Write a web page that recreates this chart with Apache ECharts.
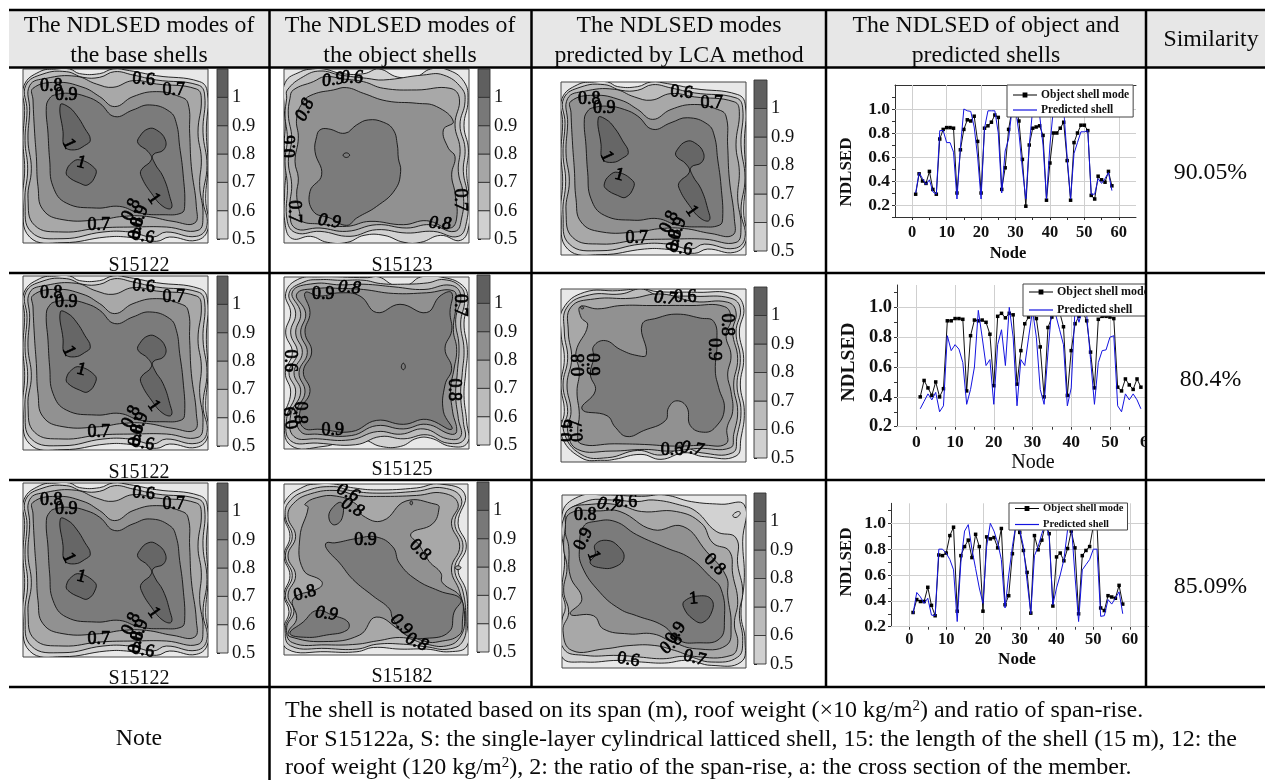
<!DOCTYPE html>
<html><head><meta charset="utf-8">
<style>html,body{margin:0;padding:0;background:#fff}#c{width:1265px;height:780px}</style>
<script src="https://cdn.jsdelivr.net/npm/echarts@6/dist/echarts.min.js"></script>
</head><body><div id="c"></div>
<script>
// ---------- DATA: contour outlines (flat x,y lists) ----------
const contourLevels = [0.5, 0.6, 0.7, 0.8, 0.9, 1.0];

const panelA = [
 [0.5,[3,50,50,8,100,0,140,0,170,14,230,14,270,0,320,5,400,20,530,38,553,70,550,190,555,290,548,390,555,480,520,515,440,505,400,518,310,505,250,505,120,522,20,505,0,400,5,300,0,215,5,125]],
 [0.6,[8,50,60,15,130,8,180,25,230,25,275,8,330,18,400,33,525,48,545,78,540,190,552,290,540,390,552,470,520,503,430,490,390,505,320,490,240,490,120,510,25,490,6,400,14,300,6,215,12,125]],
 [0.7,[20,50,70,28,160,22,220,45,270,55,330,35,400,45,520,60,535,90,525,190,535,270,530,350,540,440,525,485,430,475,330,475,230,478,120,490,35,470,15,390,25,300,15,215,20,125]],
 [0.8,[30,58,100,40,180,55,230,83,275,113,330,83,400,68,470,83,495,103,500,193,505,293,520,413,515,463,450,458,370,443,300,443,230,453,120,453,60,423,45,353,40,263,35,193,30,93]],
 [0.9,[95,78,140,73,190,83,230,103,275,143,330,123,380,108,440,128,460,163,470,233,480,313,485,413,475,433,420,438,350,433,290,413,220,418,130,403,90,353,80,273,75,193,70,113,80,88]],
 [1.0,[112,108,135,113,160,138,185,178,202,213,185,230,155,243,125,233,120,188]],
 [1.0,[170,273,215,298,218,318,195,348,170,343,135,323,130,308,145,283]],
 [1.0,[375,180,400,183,427,213,422,243,390,258,395,283,420,323,440,383,445,418,420,413,385,373,355,323,355,303,385,273,375,248,345,223,350,203]]
];
const labelsA = [["0.8",85,53,0],["0.9",130,78,0],["0.6",362,31,-5],["0.7",452,63,0],["1",137,225,-65],["1",175,281,-15],["1",392,390,-55],["0.8",325,423,65],["0.9",350,443,70],["0.8",340,478,80],["0.7",227,471,0],["0.6",360,503,-10]];

const panelB = [
 [0.5,[4,40,50,8,85,0,120,0,175,14,240,14,285,0,340,24,395,24,440,0,490,2,540,38,552,95,540,170,553,240,548,310,555,380,555,470,530,515,470,500,410,521,360,521,300,500,240,500,190,521,130,521,80,503,25,510,4,470,2,370,6,300,1,230,4,160,0,110]],
 [0.6,[10,63,58,23,108,6,168,18,248,28,298,33,418,18,478,18,533,58,543,98,528,168,543,238,538,308,550,378,548,458,523,503,448,488,368,493,278,483,198,503,108,488,38,493,10,458,10,348,3,278,10,208,3,138,8,88]],
 [0.7,[28,63,88,38,123,23,178,30,238,38,298,58,398,63,498,58,526,88,513,168,528,238,523,308,538,378,533,448,513,488,438,468,368,478,278,468,188,488,108,478,33,478,18,418,23,348,13,278,23,208,13,138,18,88]],
 [0.8,[88,76,148,63,188,56,238,73,308,96,398,103,458,113,508,158,478,183,493,238,513,263,503,318,513,373,518,448,498,478,428,456,358,468,258,458,188,473,108,466,53,458,48,438,38,378,43,328,33,278,43,208,38,148,58,98]],
 [0.9,[108,183,133,180,183,193,218,168,253,153,298,160,328,183,340,228,343,268,350,308,333,363,278,413,218,448,188,470,138,448,88,428,78,368,113,318,93,248,98,203]],
 [0.9,[177,259,187,252,197,259,187,266]]
];
const labelsB = [["0.9",148,33,8],["0.6",203,28,0],["0.8",63,123,65],["0.6",20,233,90],["0.7",30,428,-90],["0.7",526,393,-90],["0.9",136,458,-8],["0.8",468,465,-5]];

const panelC = [
 [0.5,[5,50,40,8,100,0,250,2,285,0,330,25,370,25,410,0,470,0,535,25,552,70,540,140,550,220,545,290,540,360,548,440,550,505,500,515,440,490,400,490,350,515,290,515,240,495,190,495,120,515,20,512,2,430,20,350,4,290,25,230,5,170,20,110]],
 [0.6,[15,50,60,15,110,8,170,10,240,10,290,20,350,22,430,18,480,8,530,30,542,70,530,140,540,220,535,290,530,360,538,440,540,495,490,505,430,480,360,492,290,485,215,510,100,505,20,498,8,430,35,350,15,290,40,230,20,170,35,110]],
 [0.7,[25,45,90,20,170,24,240,22,330,30,420,38,500,25,530,55,515,130,525,210,520,290,515,360,523,430,530,485,490,492,420,462,350,478,280,470,200,495,100,492,30,485,20,420,50,350,30,290,55,230,35,170,50,110]],
 [0.8,[38,52,100,35,175,35,238,38,328,50,428,48,508,42,516,80,508,160,518,220,510,280,500,340,506,410,518,470,500,478,428,448,358,462,278,452,203,482,100,478,50,470,38,410,63,350,45,290,70,230,50,170,65,110]],
 [0.9,[63,48,108,58,168,48,228,58,278,108,348,83,428,108,468,58,503,48,498,108,503,163,483,218,503,278,483,328,478,408,503,463,428,433,358,448,278,436,203,470,108,463,58,458,48,408,78,348,58,288,83,228,63,168,78,108]],
 [0.9,[352,273,358,262,364,273,358,282]]
];
const labelsC = [["0.9",118,53,0],["0.8",196,33,-5],["0.7",528,86,-90],["0.6",18,255,-90],["0.8",508,343,-90],["0.8",48,413,-90],["0.9",23,428,100],["0.9",146,466,0]];

const panelD = [
 [0.5,[6,60,70,10,170,5,225,0,250,0,290,8,410,10,515,15,548,55,535,130,548,210,538,290,550,370,540,450,525,505,430,507,370,495,300,515,240,500,160,515,130,518,60,510,0,440,10,370,0,290,10,210,0,130]],
 [0.6,[18,55,85,18,180,15,240,0,290,18,400,22,510,28,538,60,525,130,538,210,528,290,540,370,528,445,515,495,420,495,370,480,300,502,230,488,140,510,60,500,8,430,20,370,6,290,20,210,10,130]],
 [0.7,[30,55,100,30,210,28,300,15,400,38,500,40,525,70,515,130,530,210,518,290,530,370,518,440,508,480,410,482,330,490,250,485,150,490,50,485,20,430,30,370,18,290,32,210,22,130]],
 [0.8,[58,53,110,60,180,50,270,50,390,50,490,53,510,90,495,140,510,200,500,260,510,310,515,370,498,420,495,468,420,472,340,475,250,470,160,468,60,468,50,430,55,380,48,310,55,250,45,190,80,110,60,85]],
 [0.9,[98,173,133,156,178,183,228,201,256,198,243,108,288,88,348,76,418,88,458,98,468,158,463,248,473,298,490,363,463,418,428,433,388,413,378,358,348,338,323,358,313,398,248,428,198,446,163,418,138,383,63,363,103,308,88,258,98,208]],
 [0.9,[58,54,64,52,68,58,62,60]]
];
const labelsD = [["0.7",313,28,-5],["0.6",373,26,0],["0.8",498,108,-90],["0.9",458,183,-90],["0.8",56,230,90],["0.9",93,228,-90],["0.6",18,428,90],["0.7",48,428,95],["0.6",333,488,0],["0.7",393,483,-10]];

const panelE = [
 [0.5,[5,50,60,8,100,0,150,0,210,12,280,18,400,12,470,0,545,30,525,120,550,190,525,260,550,330,552,420,552,495,500,513,430,505,350,505,270,500,220,513,130,513,10,505,0,440,15,390,0,340,18,280,0,220,18,160,0,100]],
 [0.6,[15,55,70,20,150,8,200,20,280,28,400,22,480,12,535,45,515,120,540,190,515,260,540,330,548,410,540,480,495,505,430,498,360,490,280,490,220,505,130,503,20,495,4,440,22,390,4,340,25,280,4,220,25,160,4,100]],
 [0.7,[28,60,80,30,160,20,220,35,290,38,400,35,480,28,525,60,505,120,530,190,505,260,530,330,545,410,530,470,490,495,430,490,360,470,280,480,220,490,130,492,25,485,8,440,30,390,12,340,35,280,12,220,35,160,12,100]],
 [0.8,[63,62,98,42,158,37,218,62,238,97,298,112,368,52,458,62,468,72,448,122,383,152,408,187,438,237,473,272,478,302,533,347,538,422,528,462,468,482,428,482,358,452,278,407,228,462,118,482,18,467,13,452,38,412,28,352,108,317,113,297,58,262,48,162,73,72]],
 [0.9,[128,180,153,180,218,167,278,162,328,192,348,242,398,292,468,327,533,352,513,392,498,452,428,472,368,462,328,412,318,382,268,342,208,292,168,242,128,197]],
 [0.9,[18,457,58,422,98,387,148,402,193,422,190,447,128,462,68,469]],
 [0.9,[173,57,176,102,153,125,136,107,143,77]],
 [0.7,[516,256,525,250,534,256,525,262]],
 [0.9,[380,58,384,52,388,58,384,64]]
];
const labelsE = [["0.6",193,27,-25],["0.8",206,72,-30],["0.9",246,172,0],["0.8",410,202,-45],["0.8",63,334,15],["0.9",128,397,-8],["0.9",353,430,-45],["0.8",400,484,-25]];

const panelF = [
 [0.5,[0,60,50,5,130,0,240,4,310,0,390,20,480,28,550,30,545,140,550,250,540,360,552,440,540,505,450,515,380,500,310,508,240,505,170,500,70,505,0,490,0,380]],
 [0.5,[515,62,530,50,538,55,525,68]],
 [0.6,[5,70,70,20,150,15,225,20,275,15,355,30,405,50,465,110,525,130,530,210,545,290,535,360,545,440,530,490,450,505,375,488,305,495,235,490,170,485,70,485,5,465,0,380,10,340,0,290,8,200]],
 [0.7,[18,45,90,28,170,30,240,50,345,50,420,85,455,145,505,170,515,240,530,320,520,390,530,450,510,485,400,488,340,470,280,455,205,455,130,465,30,470,3,410,20,355,5,290,15,220,5,160,10,100]],
 [0.8,[25,55,115,48,175,50,275,105,365,95,435,170,495,245,500,305,510,395,495,455,405,465,335,445,275,420,200,420,125,405,95,365,25,360,60,315,25,245,20,155,10,105]],
 [0.9,[65,95,100,80,160,80,225,120,315,160,385,190,445,245,480,285,490,375,475,435,405,447,355,440,305,395,225,365,175,345,115,295,60,215,53,155]],
 [1.0,[100,150,135,137,170,155,187,190,160,217,115,220,85,205,100,180]],
 [1.0,[370,320,415,305,450,315,453,350,425,385,395,375,367,340]]
];
const labelsF = [["0.8",70,60,0],["0.7",140,30,-10],["0.6",193,23,0],["0.9",65,133,65],["1",95,183,-70],["0.8",460,210,-45],["1",397,313,5],["0.9",343,417,55],["0.8",330,450,40],["0.7",400,493,-15],["0.6",200,498,-10]];

// ---------- DATA: node curves ----------
const nodes = [];for(let i=1;i<=58;i++)nodes.push(i);
const object1 = [0.29,0.46,0.40,0.38,0.48,0.33,0.29,0.75,0.83,0.845,0.845,0.84,0.30,0.66,0.83,0.91,0.90,0.94,0.73,0.30,0.84,0.86,0.89,0.95,0.93,0.33,0.51,0.83,1.0,1.05,0.90,0.58,0.19,0.70,0.84,0.85,0.86,0.78,0.24,0.55,0.80,0.80,0.84,0.89,0.57,0.24,0.72,0.80,0.865,0.865,0.82,0.28,0.25,0.44,0.41,0.39,0.48,0.36];
const predicted1 = [0.30,0.47,0.42,0.37,0.41,0.31,0.29,0.82,0.82,0.72,0.72,0.64,0.25,0.68,1.0,0.985,0.98,0.85,0.6,0.25,0.84,0.985,0.985,0.985,0.8,0.30,0.65,0.75,1.0,1.0,0.8,0.5,0.25,0.7,1.0,1.0,0.95,0.7,0.25,0.7,1.0,1.0,1.0,1.0,0.6,0.25,0.63,0.72,0.81,0.81,0.82,0.29,0.29,0.42,0.38,0.42,0.47,0.32];
const object2 = [0.40,0.51,0.46,0.41,0.50,0.40,0.455,0.91,0.91,0.925,0.925,0.92,0.44,0.81,0.915,0.91,0.915,0.90,0.82,0.475,0.94,0.96,0.93,0.96,0.95,0.485,0.71,0.89,0.935,0.97,0.925,0.735,0.40,0.865,0.935,1.0,0.97,0.87,0.41,0.71,0.89,0.94,0.97,0.91,0.70,0.46,0.92,0.94,0.94,0.935,0.925,0.465,0.44,0.52,0.48,0.45,0.52,0.465];
const predicted2 = [0.32,0.37,0.42,0.38,0.43,0.30,0.34,0.81,0.71,0.75,0.72,0.63,0.35,0.45,0.6,0.98,0.8,0.61,0.65,0.35,0.75,0.85,0.61,1.0,0.8,0.34,0.65,0.61,0.8,0.98,0.8,0.45,0.35,0.7,1.0,0.95,0.85,0.75,0.34,0.46,1.0,0.9,1.0,0.95,0.65,0.35,0.63,0.71,0.715,0.8,0.81,0.34,0.3,0.42,0.38,0.42,0.38,0.32];
const object3 = [0.31,0.41,0.395,0.395,0.505,0.365,0.285,0.755,0.75,0.77,0.905,0.97,0.32,0.75,0.82,0.87,0.735,0.915,0.82,0.32,0.895,0.88,0.89,0.81,0.96,0.37,0.44,0.765,1.0,0.93,0.79,0.62,0.305,0.905,0.795,0.87,1.0,0.92,0.36,0.74,0.77,0.71,0.805,0.94,0.81,0.30,0.75,0.79,0.82,0.98,0.99,0.345,0.325,0.44,0.43,0.42,0.52,0.375];
const predicted3 = [0.3,0.465,0.43,0.38,0.42,0.29,0.285,0.8,0.8,0.77,0.72,0.64,0.24,0.7,0.94,0.99,0.8,0.65,0.5,0.38,0.82,1.0,0.94,0.85,0.72,0.345,0.6,0.82,1.0,0.95,0.82,0.55,0.3,0.75,0.82,0.92,1.0,0.9,0.37,0.5,0.6,0.72,0.95,1.0,0.6,0.24,0.64,0.68,0.72,0.8,0.8,0.28,0.285,0.41,0.375,0.42,0.47,0.3];
const gridX = [0,10,20,30,40,50,60];
const gridY = [0.2,0.4,0.6,0.8,1.0];
const legendNames = ["Object shell mode","Predicted shell"];

// ---------- DATA: table text ----------
const headers = [
 [139,["The NDLSED modes of","the base shells"]],
 [400,["The NDLSED modes of","the object shells"]],
 [679,["The NDLSED modes","predicted by LCA method"]],
 [986,["The NDLSED of object and","predicted shells"]],
 [1211,["Similarity"]]
];
const similarity = ["90.05%","80.4%","85.09%"];
const noteLines = [
 "The shell is notated based on its span (m), roof weight (\u00d710 kg/m{s|2}) and ratio of span-rise.",
 "For S15122a, S: the single-layer cylindrical latticed shell, 15: the length of the shell (15 m), 12: the",
 "roof weight (120 kg/m{s|2}), 2: the ratio of the span-rise, a: the cross section of the member."
];

// ---------- LAYOUT / STYLE ----------
const SERIF = '"Liberation Serif","Times New Roman",serif';
const fillOf = {0.5:'#d2d2d2',0.6:'#bcbcbc',0.7:'#a8a8a8',0.8:'#919191',0.9:'#7b7b7b',1:'#666666'};
const barFill = ['#d0d0d0','#bbbbbb','#a6a6a6','#8f8f8f','#787878','#5f5f5f'];
const italicB = [0,1,2,6,7], italicC=[1], italicD=[0,9], italicE=[0,1,5,6,7], italicF=[1];
const panels = [
 {c:panelA,l:labelsA,it:[],box:[23,69,185,174],bar:[217,69,11,170],cap:['S15122',139,264]},
 {c:panelB,l:labelsB,it:italicB,box:[284,69,185,174],bar:[478,69,12,170],cap:['S15123',402,264]},
 {c:panelA,l:labelsA,it:[],box:[561,82,185,173],bar:[754,80,13,171],cap:null},
 {c:panelA,l:labelsA,it:[],box:[23,276,185,174],bar:[217,276,11,170],cap:['S15122',139,471]},
 {c:panelC,l:labelsC,it:italicC,box:[284,277,185,172],bar:[477,275,13,170],cap:['S15125',402,468]},
 {c:panelD,l:labelsD,it:italicD,box:[561,289,185,173],bar:[754,287,13,171],cap:null},
 {c:panelA,l:labelsA,it:[],box:[23,483,185,174],bar:[217,483,11,170],cap:['S15122',139,677]},
 {c:panelE,l:labelsE,it:italicE,box:[284,484,184,171],bar:[477,482,12,170],cap:['S15182',402,675]},
 {c:panelF,l:labelsF,it:italicF,box:[562,495,184,173],bar:[754,493,12,171],cap:null}
];
const charts = [
 {o:object1,p:predicted1,rect:[895,85,241,132],y:[0.1,1.2],font:16.5,margin:7,leg:[1007,85],legPad:[4,4,1,6],gap:3,topAxis:true,nameY:[847,172,17],node:[1008,252,'bold 16.5px'],legFont:11.5},
 {o:object2,p:predicted2,rect:[897,285,271,141.7],y:[0.2,1.15],font:17.5,margin:7,leg:[1023,284],legPad:[2,4,0,6],gap:6,topAxis:false,nameY:[849,362,19.5],node:[1033,461,'20px'],legFont:12},
 {o:object3,p:predicted3,rect:[891,503.3,257.5,123.4],y:[0.2,1.155],font:16.5,margin:5,leg:[1009,503],legPad:[0,4,0,6],gap:5,topAxis:false,nameY:[847,562,17],node:[1017,658,'bold 17px'],legFont:10.5}
];

const grid=[],xAxis=[],yAxis=[],series=[],legend=[],graphic=[];
function pairs(flat){const out=[];for(let i=0;i<flat.length;i+=2)out.push([flat[i],flat[i+1]]);return out;}

panels.forEach(function(p){
  const g=grid.length;
  grid.push({left:p.box[0],top:p.box[1],width:p.box[2],height:p.box[3],show:true,backgroundColor:'#e8e8e8',borderColor:'#444',borderWidth:1,z:1});
  xAxis.push({gridIndex:g,type:'value',min:0,max:555,show:false});
  yAxis.push({gridIndex:g,type:'value',min:0,max:523,inverse:true,show:false});
  const polys=p.c.map(function(r){return {level:r[0],pts:pairs(r[1])};});
  series.push({type:'custom',xAxisIndex:g,yAxisIndex:g,clip:true,silent:true,z:2,
    data:polys.map(function(r,i){return [r.pts[0][0],r.pts[0][1],i];}),
    renderItem:function(params,api){
      const r=polys[params.dataIndex];
      return {type:'polygon',shape:{points:r.pts.map(function(q){return api.coord(q);}),smooth:0.45},
        style:{fill:fillOf[r.level],stroke:'#111',lineWidth:0.9}};
    }});
  series.push({type:'custom',xAxisIndex:g,yAxisIndex:g,clip:true,silent:true,z:3,
    data:p.l.map(function(t){return [t[1],t[2]];}),
    renderItem:function(params,api){
      const t=p.l[params.dataIndex];const c=api.coord([t[1],t[2]]);
      const st=p.it.indexOf(params.dataIndex)>=0?'italic ':'';
      return {type:'text',x:c[0],y:c[1],rotation:t[3]*Math.PI/180,
        style:{text:t[0],font:st+'18px '+SERIF,fill:'#000',stroke:'#000',lineWidth:0.7,align:'center',verticalAlign:'middle',textAlign:'center',textVerticalAlign:'middle'}};
    }});
  const b=grid.length;
  grid.push({left:p.bar[0],top:p.bar[1],width:p.bar[2],height:p.bar[3]});
  xAxis.push({gridIndex:b,type:'value',min:0,max:1,show:false});
  yAxis.push({gridIndex:b,type:'value',min:0.5,max:1.1,interval:0.1,position:'right',
    axisLine:{show:false},axisTick:{show:true,length:3,lineStyle:{color:'#222'}},splitLine:{show:false},
    axisLabel:{margin:4,color:'#111',fontFamily:SERIF,fontSize:18.5,
      formatter:function(v){return v>1.05?'':String(Math.round(v*10)/10);}}});
  series.push({type:'custom',xAxisIndex:b,yAxisIndex:b,silent:true,z:2,
    data:contourLevels.map(function(v,i){return [v,i];}),
    renderItem:function(params,api){
      const i=params.dataIndex;const v=contourLevels[i];
      const a=api.coord([0,v]);const c=api.coord([1,v+0.1]);
      return {type:'rect',shape:{x:a[0],y:c[1],width:c[0]-a[0],height:a[1]-c[1]},
        style:{fill:barFill[i],stroke:'#333',lineWidth:0.9}};
    }});
  if(p.cap) graphic.push(txt(p.cap[0],p.cap[1],p.cap[2],'20px '+SERIF,'center'));
});

charts.forEach(function(ch){
  const g=grid.length;const r=ch.rect;
  grid.push({left:r[0],top:r[1],width:r[2],height:r[3]});
  xAxis.push({gridIndex:g,type:'value',min:-5,max:65,interval:5,
    axisLine:{onZero:false,lineStyle:{color:'#333'}},axisTick:{length:3,lineStyle:{color:'#333'}},splitLine:{show:false},
    axisLabel:{margin:ch.margin,color:'#111',fontFamily:SERIF,fontWeight:'bold',fontSize:ch.font,showMinLabel:false,showMaxLabel:false,
      formatter:function(v){return v%10===0?String(v):'';}}});
  yAxis.push({gridIndex:g,type:'value',min:ch.y[0],max:ch.y[1],interval:0.1,
    axisLine:{show:true,onZero:false,lineStyle:{color:'#333'}},axisTick:{show:true,length:3,lineStyle:{color:'#333'}},splitLine:{show:false},
    axisLabel:{margin:5,color:'#111',fontFamily:SERIF,fontWeight:'bold',fontSize:ch.font+1,showMaxLabel:false,
      formatter:function(v){const k=Math.round(v*10);return (k%2===0&&k<=10&&k>=2)?(k/10).toFixed(1):'';}}});
  if(ch.topAxis){
    xAxis.push({gridIndex:g,type:'value',position:'top',min:-5,max:65,interval:70,axisLine:{show:true,onZero:false,lineStyle:{color:'#333'}},axisTick:{show:false},axisLabel:{show:false},splitLine:{show:false}});
  }
});
let xi=panels.length*2;let gi=panels.length*2;
charts.forEach(function(ch){
  const zip=function(v){return nodes.map(function(n,i){return [n,v[i]];});};
  const grids={silent:true,symbol:'none',animation:false,
    lineStyle:{color:'#cfcfcf',width:1,type:'solid'},label:{show:false},
    data:gridX.map(function(v){return {xAxis:v};}).concat(gridY.map(function(v){return {yAxis:v};}))};
  series.push({name:legendNames[0],type:'line',xAxisIndex:xi,yAxisIndex:gi,data:zip(ch.o),symbol:'rect',symbolSize:3.5,showSymbol:true,
    itemStyle:{color:'#000'},lineStyle:{color:'#111',width:1},markLine:Object.assign({z:1},grids),z:2,silent:true});
  series.push({name:legendNames[1],type:'line',xAxisIndex:xi,yAxisIndex:gi,data:zip(ch.p),symbol:'none',
    itemStyle:{color:'#1414e0'},lineStyle:{color:'#1414e0',width:1},z:3,silent:true});
  legend.push({z:20,data:[{name:legendNames[0],icon:'path://M0,4.5H20V5.5H0ZM8,3H12V7H8Z'},{name:legendNames[1],icon:'path://M0,4.5H20V5.5H0Z'}],
    orient:'vertical',left:ch.leg[0],top:ch.leg[1],padding:ch.legPad,itemGap:ch.gap,itemWidth:24,itemHeight:10,
    backgroundColor:'#fff',borderColor:'#444',borderWidth:1,borderRadius:0,selectedMode:false,
    textStyle:{fontFamily:SERIF,fontWeight:'bold',fontSize:ch.legFont,color:'#111',padding:[0,0,0,-1]}});
  xi+=ch.topAxis?2:1;gi+=1;
  graphic.push({type:'text',x:ch.nameY[0],y:ch.nameY[1],rotation:Math.PI/2,z:50,
    style:{text:'NDLSED',font:'bold '+ch.nameY[2]+'px '+SERIF,fill:'#111',align:'center',verticalAlign:'middle',textAlign:'center',textVerticalAlign:'middle'}});
  graphic.push(txt('Node',ch.node[0],ch.node[1],ch.node[2]+' '+SERIF,'center'));
});

function txt(t,x,y,font,align){
  return {type:'text',x:x,y:y+1.5,z:120,silent:true,
    style:{text:t,font:font,fill:'#0a0a0a',align:align,verticalAlign:'middle',textAlign:align,textVerticalAlign:'middle',
      rich:{s:{fontSize:15,fontFamily:SERIF,verticalAlign:'top',fill:'#0a0a0a',padding:[0,0,8,0]}}}};
}
function rule(x1,y1,x2,y2,w){
  return {type:'line',z:110,silent:true,shape:{x1:x1,y1:y1,x2:x2,y2:y2},style:{stroke:'#000',lineWidth:w||2}};
}
graphic.unshift({type:'rect',z:-1,silent:true,shape:{x:9,y:10,width:1256,height:57},style:{fill:'#e7e7e7'}});
graphic.push({type:'rect',z:100,silent:true,shape:{x:1147,y:276,width:30,height:200},style:{fill:'#fff'}});
[10,67.5,273,480,687].forEach(function(y){graphic.push(rule(9,y,1265,y,2.5));});
[531.5,826,1146].forEach(function(x){graphic.push(rule(x,10,x,687,2.5));});
graphic.push(rule(269.5,10,269.5,780,2.5));
headers.forEach(function(h){
  const n=h[1].length;
  h[1].forEach(function(s,i){graphic.push(txt(s,h[0],n===1?38:(i===0?24:54),'23.8px '+SERIF,'center'));});
});
similarity.forEach(function(s,i){graphic.push(txt(s,1210.5,[171,378,585][i],'23.8px '+SERIF,'center'));});
graphic.push(txt('Note',139,737,'23.8px '+SERIF,'center'));
noteLines.forEach(function(s,i){graphic.push(txt(s,285,[709,738,766][i],'24px '+SERIF,'left'));});

const chart=echarts.init(document.getElementById('c'),null,{renderer:'canvas',width:1265,height:780});
chart.setOption({animation:false,backgroundColor:'#fff',grid,xAxis,yAxis,series,legend,graphic:{elements:graphic}});
</script></body></html>
